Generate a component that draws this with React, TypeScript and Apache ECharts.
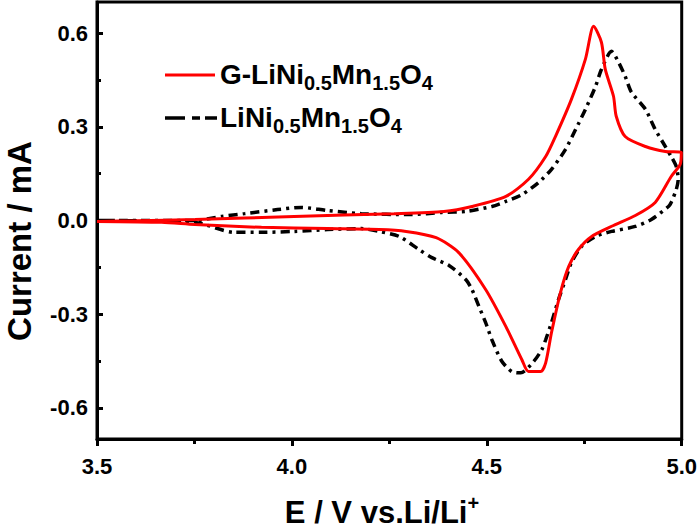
import React, { useEffect, useRef } from "react";
import * as echarts from "echarts";

const FONT = '"Liberation Sans", Arial, Helvetica, sans-serif';

// G-LiNi0.5Mn1.5O4 (red) : potential (V) and current (mA), forward then reverse sweep
const redE = [
  3.5, 3.6, 3.751, 4.006, 4.262, 4.39, 4.462, 4.549, 4.607, 4.651, 4.676, 4.717, 4.753, 4.774,
  4.794, 4.804, 4.825, 4.832, 4.855, 4.907, 4.958, 4.999, 4.996, 4.973, 4.932, 4.881, 4.825,
  4.769, 4.735, 4.71, 4.689, 4.666, 4.651, 4.638, 4.607, 4.59, 4.549, 4.497, 4.428, 4.37, 4.293,
  4.224, 4.091, 3.922, 3.751, 3.666, 3.5,
];
const redI = [
  -0.003, -0.001, 0.003, 0.013, 0.022, 0.029, 0.045, 0.077, 0.132, 0.205, 0.269, 0.388, 0.517,
  0.622, 0.571, 0.484, 0.398, 0.334, 0.269, 0.237, 0.221, 0.218, 0.18, 0.141, 0.058, 0.016,
  -0.016, -0.051, -0.093, -0.148, -0.231, -0.359, -0.456, -0.484, -0.484, -0.446, -0.34, -0.221,
  -0.103, -0.055, -0.035, -0.029, -0.026, -0.022, -0.013, -0.006, -0.003,
];

// LiNi0.5Mn1.5O4 (black dash-dot)
const blackE = [
  3.5, 3.751, 3.82, 3.879, 3.963, 4.024, 4.091, 4.178, 4.306, 4.385, 4.446, 4.513, 4.549, 4.59,
  4.633, 4.666, 4.702, 4.728, 4.753, 4.779, 4.794, 4.82, 4.838, 4.855, 4.871, 4.907, 4.932,
  4.958, 4.973, 4.986, 4.991, 4.986, 4.973, 4.966, 4.922, 4.881, 4.82, 4.779, 4.743, 4.717,
  4.702, 4.684, 4.666, 4.651, 4.641, 4.62, 4.587, 4.564, 4.538, 4.513, 4.497, 4.48, 4.462,
  4.446, 4.403, 4.359, 4.326, 4.275, 4.224, 4.178, 4.091, 4.006, 3.922, 3.853, 3.751, 3.5,
];
const blackI = [
  0.0, 0.0, 0.013, 0.022, 0.035, 0.042, 0.032, 0.022, 0.019, 0.026, 0.029, 0.045, 0.061, 0.083,
  0.122, 0.164, 0.228, 0.292, 0.356, 0.43, 0.484, 0.542, 0.507, 0.462, 0.411, 0.356, 0.292,
  0.237, 0.205, 0.173, 0.132, 0.099, 0.058, 0.045, 0.003, -0.019, -0.035, -0.051, -0.083,
  -0.135, -0.189, -0.253, -0.327, -0.382, -0.414, -0.452, -0.488, -0.484, -0.45, -0.382,
  -0.327, -0.276, -0.221, -0.189, -0.144, -0.119, -0.093, -0.051, -0.035, -0.026, -0.029,
  -0.035, -0.038, -0.038, -0.006, 0.0,
];

const yMajorTicks = [-0.6, -0.3, 0, 0.3, 0.6];
const yMinorTicks = [-0.45, -0.15, 0.15, 0.45];

// text pieces: [text, shift] where shift 0 = normal, 1 = subscript, -1 = superscript
const legendRed: [string, number][] = [["G-LiNi", 0], ["0.5", 1], ["Mn", 0], ["1.5", 1], ["O", 0], ["4", 1]];
const legendBlack: [string, number][] = [["LiNi", 0], ["0.5", 1], ["Mn", 0], ["1.5", 1], ["O", 0], ["4", 1]];
const xTitle: [string, number][] = [["E / V vs.Li/Li", 0], ["+", -1]];
const yTitle = "Current / mA";

const zip = (a: number[], b: number[]) => a.map((v, i) => [v, b[i]]);

let measureCtx: CanvasRenderingContext2D | null = null;
function measure(text: string, font: string) {
  if (!measureCtx) measureCtx = document.createElement("canvas").getContext("2d");
  if (!measureCtx) return text.length * 12;
  measureCtx.font = font;
  return measureCtx.measureText(text).width;
}

function scriptRow(
  pieces: [string, number][],
  x: number,
  yCenter: number,
  size: number,
  smallSize: number,
  subDy: number,
  supDy: number,
  anchor: "left" | "center"
) {
  const fontN = `bold ${size}px ${FONT}`;
  const fontS = `bold ${smallSize}px ${FONT}`;
  const widths = pieces.map(([t, s]) => measure(t, s === 0 ? fontN : fontS));
  const total = widths.reduce((a, b) => a + b, 0);
  let cx = anchor === "center" ? x - total / 2 : x;
  return pieces.map(([t, s], i) => {
    const el = {
      type: "text",
      x: cx,
      y: yCenter + (s === 1 ? subDy : s === -1 ? supDy : 0),
      style: {
        text: t,
        font: s === 0 ? fontN : fontS,
        fill: "#000",
        align: "left",
        verticalAlign: "middle",
      },
    };
    cx += widths[i];
    return el;
  });
}

export default function App() {
  const ref = useRef<HTMLDivElement>(null);
  useEffect(() => {
    if (!ref.current) return;
    const chart = echarts.init(ref.current, undefined, { renderer: "svg" });
    const labelStyle = {
      fontSize: 22,
      fontWeight: "bold" as const,
      fontFamily: FONT,
      color: "#000",
    };
    chart.setOption({
      animation: false,
      backgroundColor: "#fff",
      grid: {
        left: 97,
        right: 17,
        top: 2,
        bottom: 92,
        show: true,
        borderColor: "#000",
        borderWidth: 3,
      },
      xAxis: {
        type: "value",
        min: 3.5,
        max: 5.0,
        interval: 0.5,
        axisLine: { show: true, onZero: false, lineStyle: { color: "#000", width: 3 } },
        axisTick: { show: true, inside: false, length: 7, lineStyle: { color: "#000", width: 3 } },
        minorTick: { show: true, splitNumber: 2, length: 5, lineStyle: { color: "#000", width: 3 } },
        splitLine: { show: false },
        axisLabel: { ...labelStyle, margin: 16, formatter: (v: number) => v.toFixed(1) },
      },
      yAxis: [
        {
          type: "value",
          min: -0.7,
          max: 0.7,
          axisLine: { show: true, onZero: false, lineStyle: { color: "#000", width: 3 } },
          axisTick: {
            show: true,
            inside: true,
            length: 6,
            customValues: yMajorTicks,
            lineStyle: { color: "#000", width: 3 },
          },
          splitLine: { show: false },
          axisLabel: {
            ...labelStyle,
            margin: 9,
            customValues: yMajorTicks,
            formatter: (v: number) => (Math.abs(v) < 1e-9 ? "0.0" : v.toFixed(1)),
          },
        },
        {
          type: "value",
          min: -0.7,
          max: 0.7,
          position: "left",
          offset: 0,
          axisLine: { show: false, onZero: false },
          axisTick: {
            show: true,
            inside: true,
            length: 4,
            customValues: yMinorTicks,
            lineStyle: { color: "#000", width: 3 },
          },
          splitLine: { show: false },
          axisLabel: { show: false },
        },
      ],
      series: [
        {
          type: "line",
          name: "G-LiNi0.5Mn1.5O4",
          data: zip(redE, redI),
          showSymbol: false,
          smooth: 0.25,
          lineStyle: { color: "#ff0000", width: 3 },
          z: 3,
        },
        {
          type: "line",
          name: "LiNi0.5Mn1.5O4",
          data: zip(blackE, blackI),
          showSymbol: false,
          smooth: 0.25,
          lineStyle: { color: "#000", width: 3.5, type: [9, 5, 3, 5] },
          z: 2,
        },
      ],
      graphic: [
        {
          type: "line",
          shape: { x1: 165, y1: 75, x2: 215, y2: 75 },
          style: { stroke: "#ff0000", lineWidth: 3 },
        },
        {
          type: "line",
          shape: { x1: 165, y1: 118, x2: 217, y2: 118 },
          style: { stroke: "#000", lineWidth: 3.5, lineDash: [20, 7, 8, 5, 12] },
        },
        ...scriptRow(legendRed, 220, 74, 28, 20, 9, -8, "left"),
        ...scriptRow(legendBlack, 220, 117, 28, 20, 9, -8, "left"),
        ...scriptRow(xTitle, 382, 512, 31, 20, 9, -9, "center"),
        {
          type: "text",
          x: 19,
          y: 241,
          rotation: Math.PI / 2,
          style: {
            text: yTitle,
            font: `bold 33px ${FONT}`,
            align: "center",
            verticalAlign: "middle",
            fill: "#000",
          },
        },
      ],
    });
    return () => chart.dispose();
  }, []);
  return (
    <div
      ref={ref}
      style={{ position: "fixed", left: 0, top: 0, width: 700, height: 531, background: "#fff" }}
    />
  );
}
